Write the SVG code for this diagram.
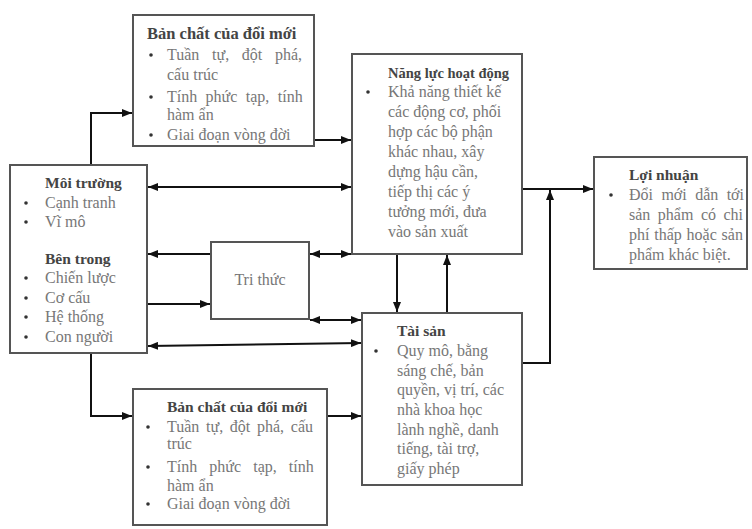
<svg xmlns="http://www.w3.org/2000/svg" width="752" height="529" viewBox="0 0 752 529">
<defs>
<marker id="ah" viewBox="0 0 10 8" refX="10" refY="4" markerWidth="10" markerHeight="8" markerUnits="userSpaceOnUse" orient="auto-start-reverse">
<path d="M0,0 L10,4 L0,8 Z" fill="#111"/>
</marker>
</defs>
<style>
.box{fill:#fff;stroke:#555;stroke-width:2}
.t{font-family:"Liberation Serif","DejaVu Serif",serif;font-size:16px;fill:#777}
.h{font-family:"Liberation Serif","DejaVu Serif",serif;font-size:15.5px;font-weight:bold;fill:#444}
.b{fill:#333}
.c{fill:none;stroke:#111;stroke-width:2}
</style>
<rect width="752" height="529" fill="#fff"/>
<g id="connectors">
<path class="c" d="M91,165 V113 H132" marker-end="url(#ah)"/>
<path class="c" d="M314,140 H351" marker-end="url(#ah)"/>
<path class="c" d="M148,187 H351" marker-start="url(#ah)" marker-end="url(#ah)"/>
<path class="c" d="M310,254 H351" marker-start="url(#ah)" marker-end="url(#ah)"/>
<path class="c" d="M211,254 H148" marker-end="url(#ah)"/>
<path class="c" d="M148,304 H210" marker-end="url(#ah)"/>
<path class="c" d="M310,320 H361" marker-start="url(#ah)" marker-end="url(#ah)"/>
<path class="c" d="M148,346 L361,343" marker-start="url(#ah)" marker-end="url(#ah)"/>
<path class="c" d="M91,352 V416 H132" marker-end="url(#ah)"/>
<path class="c" d="M327,416 H361" marker-end="url(#ah)"/>
<path class="c" d="M397,254 V312" marker-end="url(#ah)"/>
<path class="c" d="M447,313 V255" marker-end="url(#ah)"/>
<path class="c" d="M522,189 H593" marker-end="url(#ah)"/>
<path class="c" d="M522,363 H550 V190" marker-end="url(#ah)"/>
</g>
<g id="ban-chat-top">
<rect class="box" x="133" y="15" width="181" height="131"/>
<text class="h" x="147" y="39" style="font-size:16.5px">Bản chất của đổi mới</text>
<circle class="b" cx="151" cy="55" r="1.8"/>
<text class="t" x="167" y="60" word-spacing="8.7">Tuần tự, đột phá,</text>
<text class="t" x="167" y="80">cấu trúc</text>
<circle class="b" cx="151" cy="97" r="1.8"/>
<text class="t" x="167" y="102" word-spacing="4.4">Tính phức tạp, tính</text>
<text class="t" x="167" y="120">hàm ẩn</text>
<circle class="b" cx="151" cy="135" r="1.8"/>
<text class="t" x="167" y="140">Giai đoạn vòng đời</text>
</g>
<g id="nang-luc">
<rect class="box" x="352" y="54" width="170" height="200"/>
<text class="h" x="388" y="78" style="font-size:14.5px">Năng lực hoạt động</text>
<circle class="b" cx="368" cy="92" r="1.8"/>
<text class="t" x="388" y="97">Khả năng thiết kế</text>
<text class="t" x="388" y="117">các động cơ, phối</text>
<text class="t" x="388" y="137">hợp các bộ phận</text>
<text class="t" x="388" y="157">khác nhau, xây</text>
<text class="t" x="388" y="177">dựng hậu cần,</text>
<text class="t" x="388" y="197">tiếp thị các ý</text>
<text class="t" x="388" y="217">tưởng mới, đưa</text>
<text class="t" x="388" y="237">vào sản xuất</text>
</g>
<g id="moi-truong">
<rect class="box" x="10" y="165" width="137" height="188"/>
<text class="h" x="45" y="188">Môi trường</text>
<circle class="b" cx="26" cy="203" r="1.8"/>
<text class="t" x="45" y="208">Cạnh tranh</text>
<circle class="b" cx="26" cy="222" r="1.8"/>
<text class="t" x="45" y="227">Vĩ mô</text>
<text class="h" x="45" y="264">Bên trong</text>
<circle class="b" cx="26" cy="278" r="1.8"/>
<text class="t" x="45" y="283">Chiến lược</text>
<circle class="b" cx="26" cy="298" r="1.8"/>
<text class="t" x="45" y="303">Cơ cấu</text>
<circle class="b" cx="26" cy="317" r="1.8"/>
<text class="t" x="45" y="322">Hệ thống</text>
<circle class="b" cx="26" cy="337" r="1.8"/>
<text class="t" x="45" y="342">Con người</text>
</g>
<g id="tri-thuc">
<rect class="box" x="211" y="242" width="98" height="77"/>
<text class="t" x="260" y="285" text-anchor="middle">Tri thức</text>
</g>
<g id="loi-nhuan">
<rect class="box" x="594" y="157" width="153" height="112"/>
<text class="h" x="629" y="180">Lợi nhuận</text>
<circle class="b" cx="611" cy="195" r="1.8"/>
<text class="t" x="629" y="200" word-spacing="4.4">Đổi mới dẫn tới</text>
<text class="t" x="629" y="220" word-spacing="3.5">sản phẩm có chi</text>
<text class="t" x="629" y="240" word-spacing="0.8">phí thấp hoặc sản</text>
<text class="t" x="629" y="260">phẩm khác biệt.</text>
</g>
<g id="tai-san">
<rect class="box" x="362" y="313" width="160" height="172"/>
<text class="h" x="397" y="336">Tài sản</text>
<circle class="b" cx="376" cy="351" r="1.8"/>
<text class="t" x="397" y="356">Quy mô, bằng</text>
<text class="t" x="397" y="376">sáng chế, bản</text>
<text class="t" x="397" y="395">quyền, vị trí, các</text>
<text class="t" x="397" y="415">nhà khoa học</text>
<text class="t" x="397" y="435">lành nghề, danh</text>
<text class="t" x="397" y="454">tiếng, tài trợ,</text>
<text class="t" x="397" y="474">giấy phép</text>
</g>
<g id="ban-chat-bottom">
<rect class="box" x="133" y="389" width="194" height="136"/>
<text class="h" x="167" y="412">Bản chất của đổi mới</text>
<circle class="b" cx="148" cy="427" r="1.8"/>
<text class="t" x="167" y="432" word-spacing="2.7">Tuần tự, đột phá, cấu</text>
<text class="t" x="167" y="449">trúc</text>
<circle class="b" cx="148" cy="467" r="1.8"/>
<text class="t" x="167" y="472" word-spacing="8.1">Tính phức tạp, tính</text>
<text class="t" x="167" y="491">hàm ẩn</text>
<circle class="b" cx="148" cy="504" r="1.8"/>
<text class="t" x="167" y="509">Giai đoạn vòng đời</text>
</g>
</svg>
